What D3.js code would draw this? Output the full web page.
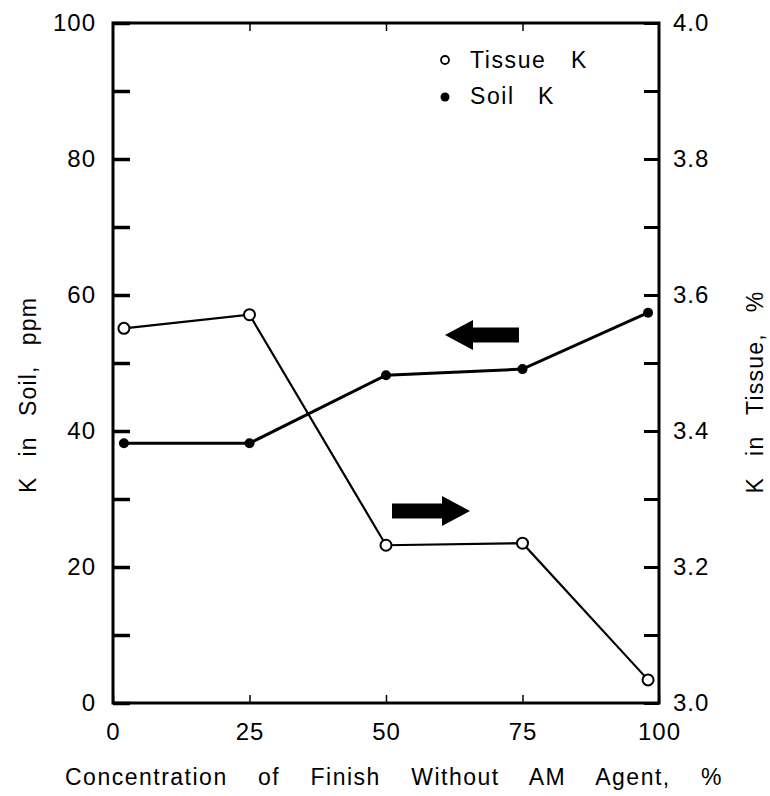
<!DOCTYPE html>
<html>
<head>
<meta charset="utf-8">
<script src="https://cdn.jsdelivr.net/npm/d3@7"></script>
<style>
  body { margin: 0; background: #fff; }
  svg { font-family: "Liberation Sans", Arial, sans-serif; }
</style>
</head>
<body>
<svg width="770" height="796"></svg>
<script>
// values
var concentration = [2, 25, 50, 75, 98];
var soilK = [38.2, 38.2, 48.2, 49.1, 57.4];       // ppm, left axis
var tissueK = [3.551, 3.571, 3.232, 3.235, 3.034]; // %, right axis
var xTicks = [0, 25, 50, 75, 100];
var leftTicks = d3.range(0, 101, 10);
var rightTicks = d3.range(3.0, 4.001, 0.1);

var svg = d3.select("svg");

var x = d3.scaleLinear().domain([0, 100]).range([113, 659]);
var yL = d3.scaleLinear().domain([0, 100]).range([703, 23]);
var yR = d3.scaleLinear().domain([3.0, 4.0]).range([703, 23]);

// left axis
var leftAxis = svg.append("g")
    .attr("transform", "translate(" + x(0) + ",0)")
    .call(d3.axisLeft(yL).tickValues(leftTicks)
        .tickSizeInner(-17).tickSizeOuter(0).tickPadding(17)
        .tickFormat(function(d) { return d % 20 == 0 ? d : ""; }));

// right axis
var rightAxis = svg.append("g")
    .attr("transform", "translate(" + x(100) + ",0)")
    .call(d3.axisRight(yR).tickValues(rightTicks)
        .tickSizeInner(-15).tickSizeOuter(0).tickPadding(14)
        .tickFormat(function(d, i) { return i % 2 == 0 ? d3.format(".1f")(d) : ""; }));

// bottom axis
var bottomAxis = svg.append("g")
    .attr("transform", "translate(0," + yL(0) + ")")
    .call(d3.axisBottom(x).tickValues(xTicks)
        .tickSizeInner(-8).tickSizeOuter(0).tickPadding(20));

// top axis, ticks only
var topAxis = svg.append("g")
    .attr("transform", "translate(0," + yL(100) + ")")
    .call(d3.axisTop(x).tickValues([25, 50, 75])
        .tickSizeInner(-8).tickSizeOuter(0).tickFormat(""));

svg.selectAll(".domain").remove();
leftAxis.selectAll(".tick line").attr("stroke-width", 3.5);
rightAxis.selectAll(".tick line").attr("stroke-width", 3);
bottomAxis.selectAll(".tick line").attr("stroke-width", 1.5);
topAxis.selectAll(".tick line").attr("stroke-width", 1.5);
svg.selectAll(".tick text")
    .attr("font-size", 24)
    .attr("letter-spacing", 1)
    .attr("font-family", "Liberation Sans, Arial, sans-serif")
    .attr("fill", "#000");

// frame
svg.append("rect")
    .attr("x", x(0)).attr("y", yL(100))
    .attr("width", x(100) - x(0)).attr("height", yL(0) - yL(100))
    .attr("fill", "none").attr("stroke", "#000").attr("stroke-width", 3);

// tissue K line
var tissueLine = d3.line()
    .x(function(d, i) { return x(concentration[i]); })
    .y(function(d) { return yR(d); });
svg.append("path")
    .datum(tissueK)
    .attr("d", tissueLine)
    .attr("fill", "none").attr("stroke", "#000").attr("stroke-width", 2.2);

// soil K line
var soilLine = d3.line()
    .x(function(d, i) { return x(concentration[i]); })
    .y(function(d) { return yL(d); });
svg.append("path")
    .datum(soilK)
    .attr("d", soilLine)
    .attr("fill", "none").attr("stroke", "#000").attr("stroke-width", 3);

svg.selectAll(".soil")
    .data(soilK).enter().append("circle")
    .attr("class", "soil")
    .attr("cx", function(d, i) { return x(concentration[i]); })
    .attr("cy", function(d) { return yL(d); })
    .attr("r", 5)
    .attr("fill", "#000");

svg.selectAll(".tissue")
    .data(tissueK).enter().append("circle")
    .attr("class", "tissue")
    .attr("cx", function(d, i) { return x(concentration[i]); })
    .attr("cy", function(d) { return yR(d); })
    .attr("r", 5.5)
    .attr("fill", "#fff").attr("stroke", "#000").attr("stroke-width", 2);

// arrows pointing to the axis each series belongs to
function arrow(x0, x1, yc, dir) {
    var headLen = 28, bodyH = 7.5, headH = 15;
    var xh = dir < 0 ? x0 + headLen : x1 - headLen;
    var pts = dir < 0
        ? [[x0, yc], [xh, yc - headH], [xh, yc - bodyH], [x1, yc - bodyH], [x1, yc + bodyH], [xh, yc + bodyH], [xh, yc + headH]]
        : [[x1, yc], [xh, yc - headH], [xh, yc - bodyH], [x0, yc - bodyH], [x0, yc + bodyH], [xh, yc + bodyH], [xh, yc + headH]];
    svg.append("path")
        .attr("d", "M" + pts.join("L") + "Z")
        .attr("fill", "#000");
}
arrow(445, 519, 335, -1);
arrow(392, 470, 511, 1);

// spread words apart (the original is typewriter-like with wide gaps)
function spreadTo(sel, width) {
    var node = sel.node();
    var natural = node.getComputedTextLength();
    var gaps = sel.text().split(" ").length - 1;
    if (gaps > 0) sel.attr("word-spacing", Math.max(0, (width - natural) / gaps));
    return sel;
}

// legend
var legend = svg.append("g").attr("font-size", 23).attr("letter-spacing", 1.6);
legend.append("circle").attr("cx", 445).attr("cy", 60).attr("r", 4)
    .attr("fill", "#fff").attr("stroke", "#000").attr("stroke-width", 1.8);
spreadTo(legend.append("text").attr("x", 470).attr("y", 68)
    .text("Tissue K"), 118);
legend.append("circle").attr("cx", 445).attr("cy", 97).attr("r", 4.5)
    .attr("fill", "#000");
spreadTo(legend.append("text").attr("x", 470).attr("y", 104)
    .text("Soil K"), 85);

// axis titles
spreadTo(svg.append("text")
    .attr("transform", "translate(36,395) rotate(-90)")
    .attr("text-anchor", "middle").attr("font-size", 23)
    .attr("letter-spacing", 1.2)
    .text("K in Soil, ppm"), 196);

spreadTo(svg.append("text")
    .attr("transform", "translate(763,392) rotate(-90)")
    .attr("text-anchor", "middle").attr("font-size", 23)
    .attr("letter-spacing", 1.2)
    .text("K in Tissue, %"), 203);

spreadTo(svg.append("text")
    .attr("x", 394).attr("y", 785)
    .attr("text-anchor", "middle").attr("font-size", 23)
    .attr("letter-spacing", 1.5)
    .text("Concentration of Finish Without AM Agent, %"), 658);
</script>
</body>
</html>
